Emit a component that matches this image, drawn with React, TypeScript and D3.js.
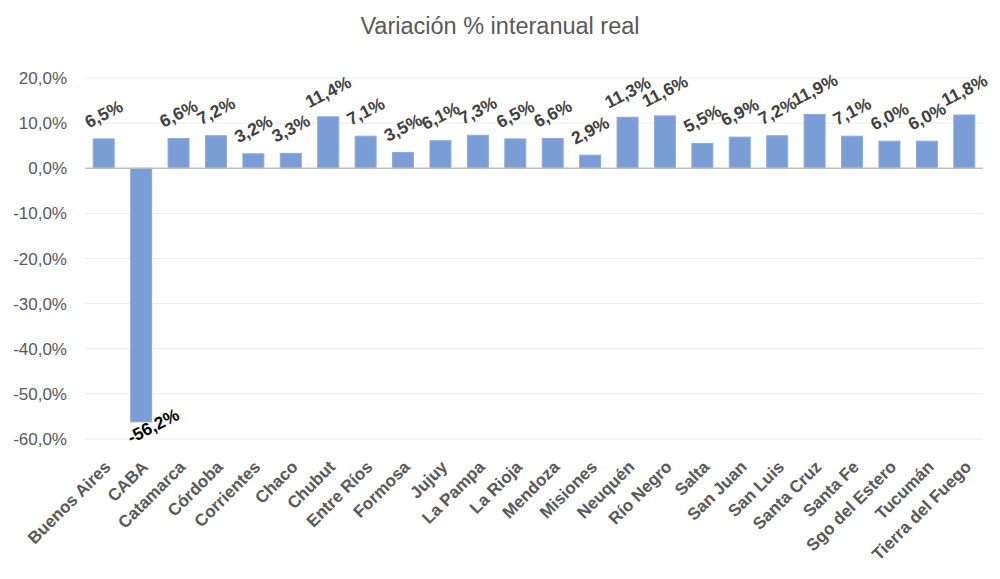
import React from "react";
import * as d3 from "d3";

const categories = [
  "Buenos Aires", "CABA", "Catamarca", "Córdoba", "Corrientes", "Chaco", "Chubut",
  "Entre Ríos", "Formosa", "Jujuy", "La Pampa", "La Rioja", "Mendoza", "Misiones",
  "Neuquén", "Río Negro", "Salta", "San Juan", "San Luis", "Santa Cruz", "Santa Fe",
  "Sgo del Estero", "Tucumán", "Tierra del Fuego",
];
const values = [
  6.5, -56.2, 6.6, 7.2, 3.2, 3.3, 11.4, 7.1, 3.5, 6.1, 7.3, 6.5, 6.6, 2.9,
  11.3, 11.6, 5.5, 6.9, 7.2, 11.9, 7.1, 6.0, 6.0, 11.8,
];
const yTicks = [20, 10, 0, -10, -20, -30, -40, -50, -60];
const title = "Variación % interanual real";

const W = 1000;
const H = 579;
const FONT = "'Liberation Sans', Arial, sans-serif";

const fmt = (v: number, d: number) => v.toFixed(d).replace(".", ",") + "%";

export default function App() {
  const x = d3.scaleBand<string>().domain(categories).range([85, 983]).paddingInner(0.44).paddingOuter(0.22);
  const y = d3.scaleLinear().domain([-60, 20]).range([439, 78]);
  const bw = x.bandwidth();
  return (
    <svg width={W} height={H} style={{ position: "absolute", left: 0, top: 0, background: "#fff" }} fontFamily={FONT}>
      <text x={500} y={34} textAnchor="middle" fontSize={23.5} fill="#595959">{title}</text>
      {yTicks.map((t) => (
        <g key={t}>
          {t !== 0 && <line x1={85} x2={983} y1={y(t)} y2={y(t)} stroke="#ebebeb" strokeWidth={1} />}
          <text x={67} y={y(t)} dy="0.36em" textAnchor="end" fontSize={17} fill="#595959">{fmt(t, 1)}</text>
        </g>
      ))}
      {categories.map((c, i) => {
        const v = values[i];
        const x0 = x(c)!;
        const top = y(Math.max(0, v));
        const h = Math.abs(y(v) - y(0));
        return (
          <rect key={c} x={x0} y={top} width={bw} height={h} fill="#7b9dd6" stroke="#8aa9dd" strokeWidth={1} />
        );
      })}
      <line x1={85} x2={983} y1={y(0)} y2={y(0)} stroke="#bfbfbf" strokeWidth={1.5} />
      {categories.map((c, i) => {
        const v = values[i];
        const cx = x(c)! + bw / 2;
        if (v >= 0) {
          const cy = y(v) - 25;
          return (
            <text key={c} transform={`translate(${cx},${cy}) rotate(-27)`} textAnchor="middle" dy="0.35em"
              fontSize={17.5} fontWeight="bold" fill="#404040">{fmt(v, 1)}</text>
          );
        }
        const cy = y(v) + 4;
        return (
          <text key={c} transform={`translate(${cx + 12},${cy}) rotate(-27)`} textAnchor="middle" dy="0.35em"
            fontSize={17.5} fontWeight="bold" fill="#000">{fmt(v, 1)}</text>
        );
      })}
      {categories.map((c) => {
        const cx = x(c)! + bw / 2;
        return (
          <text key={c} transform={`translate(${cx + 8},${468}) rotate(-45)`} textAnchor="end"
            fontSize={17} fontWeight="bold" fill="#595959">{c}</text>
        );
      })}
    </svg>
  );
}
